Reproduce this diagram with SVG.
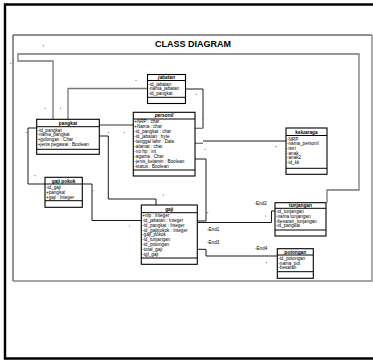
<svg xmlns="http://www.w3.org/2000/svg" width="373" height="360" viewBox="0 0 373 360">
<style>
.box{fill:#fff;stroke:#000;stroke-width:1.1}
.sep{stroke:#000;stroke-width:1}
.hd{font-family:"Liberation Sans",Arial,sans-serif;font-size:4.8px;font-weight:bold;text-anchor:middle;fill:#000}
.at{font-family:"Liberation Sans",Arial,sans-serif;font-size:4.6px;fill:#000}
.lbl{font-family:"Liberation Sans",Arial,sans-serif;font-size:4.6px;fill:#000}
.g{fill:none;stroke:#777;stroke-width:1.3}
.k{fill:none;stroke:#000;stroke-width:0.9}
.dot{fill:#666}
</style>
<rect width="373" height="360" fill="#fff"/>
<path d="M374 4.5 H5 V358.5 H374" fill="none" stroke="#000" stroke-width="2.4"/>
<path d="M372 35 H13 V281" fill="none" stroke="#222" stroke-width="1"/>
<path d="M13 281 H372 V35" fill="none" stroke="#888" stroke-width="1.4"/>
<text x="193" y="46.5" font-family="Liberation Sans,Arial,sans-serif" font-size="9" font-weight="bold" text-anchor="middle">CLASS DIAGRAM</text>

<g id="connectors">
<path class="g" d="M53 119.3 V61 H18 V54 H359 V190 H327 V202.7"/>
<path class="g" d="M68 119.3 V88.5 H147.5"/>
<path class="k" d="M185.5 89 H203 V128.3"/>
<path class="g" d="M203 128.3 H195"/>
<path class="g" d="M99.3 125 H133.3"/>
<path class="k" d="M36.7 128 H28 V184 H45"/>
<path class="k" d="M82.3 184 H92 V220.5 H141.3"/>
<path class="k" d="M99.3 136 H108.3 V199 H156 V205"/>
<path class="k" d="M195 159 H206 V221 H197.3"/>
<path class="k" d="M197.3 222.5 H271.5 V211 H275"/>
<path class="k" d="M197.3 249.3 H206 V256 H277.3"/>
<path class="g" d="M195 143.3 H203"/>
<path class="k" d="M203 141 H286"/>
</g>

<g id="jabatan">
<rect class="box" x="147.5" y="74.5" width="38" height="29"/>
<line class="sep" x1="147.5" y1="80.5" x2="185.5" y2="80.5"/>
<line class="sep" x1="147.5" y1="97.3" x2="185.5" y2="97.3"/>
<text class="hd" x="166.5" y="79" font-style="italic">jabatan</text>
<text class="at" x="148.5" y="85.7">-id_jabatan</text>
<text class="at" x="148.5" y="90.4">-nama_jabatan</text>
<text class="at" x="148.5" y="95.1">-id_pangkat</text>
</g>

<g id="personil">
<rect class="box" x="133.3" y="112.3" width="61.7" height="63.7"/>
<line class="sep" x1="133.3" y1="119" x2="195" y2="119"/>
<line class="sep" x1="133.3" y1="170" x2="195" y2="170"/>
<text class="hd" x="164" y="117.3" font-style="italic">personil</text>
<text class="at" x="134.3" y="123">+NRP : char</text>
<text class="at" x="134.3" y="128">+Nama : char</text>
<text class="at" x="134.3" y="133">-id_pangkat : char</text>
<text class="at" x="134.3" y="137.9">-id_jabatan : byte</text>
<text class="at" x="134.3" y="142.9">-tanggal lahir : Date</text>
<text class="at" x="134.3" y="147.9">-alamat : char</text>
<text class="at" x="134.3" y="152.8">-no hp : int</text>
<text class="at" x="134.3" y="157.8">-agama : Char</text>
<text class="at" x="134.3" y="162.8">-jenis_kelamin : Boolean</text>
<text class="at" x="134.3" y="167.7">-status : Boolean</text>
</g>

<g id="pangkat">
<rect class="box" x="36.7" y="119.3" width="62.6" height="35"/>
<line class="sep" x1="36.7" y1="126.7" x2="99.3" y2="126.7"/>
<line class="sep" x1="36.7" y1="149.3" x2="99.3" y2="149.3"/>
<text class="hd" x="68" y="124.8">pangkat</text>
<text class="at" x="37.7" y="131.8">-id_pangkat</text>
<text class="at" x="37.7" y="136.3">-nama_pangkat</text>
<text class="at" x="37.7" y="141">+golongan : Char</text>
<text class="at" x="37.7" y="145.7">+jenis pegawai : Boolean</text>
</g>

<g id="gaji_pokok">
<rect class="box" x="45" y="177.3" width="37.3" height="30"/>
<line class="sep" x1="45" y1="184" x2="82.3" y2="184"/>
<line class="sep" x1="45" y1="200.7" x2="82.3" y2="200.7"/>
<text class="hd" x="63.6" y="182.5">gaji pokok</text>
<text class="at" x="46" y="189">-id_gaji</text>
<text class="at" x="46" y="194">+pangkat</text>
<text class="at" x="46" y="198.8">+gaji : Integer</text>
</g>

<g id="gaji">
<rect class="box" x="141.3" y="205" width="56" height="59.3"/>
<line class="sep" x1="141.3" y1="212.7" x2="197.3" y2="212.7"/>
<line class="sep" x1="141.3" y1="258" x2="197.3" y2="258"/>
<text class="hd" x="169.3" y="210.7">gaji</text>
<text class="at" x="142.3" y="216.8">+nip : Integer</text>
<text class="at" x="142.3" y="221.7">-id_jabatan : Integer</text>
<text class="at" x="142.3" y="226.6">-id_pangkat : Integer</text>
<text class="at" x="142.3" y="231.5">-id_gajipokok : Integer</text>
<text class="at" x="142.3" y="236.4">-gaji_pokok</text>
<text class="at" x="142.3" y="241.3">-id_tunjangan</text>
<text class="at" x="142.3" y="246.2">-id_potongan</text>
<text class="at" x="142.3" y="251.1">-total_gaji</text>
<text class="at" x="142.3" y="256">-tgl_gaji</text>
</g>

<g id="keluaraga">
<rect class="box" x="286" y="128" width="41" height="46.3"/>
<line class="sep" x1="286" y1="135.5" x2="327" y2="135.5"/>
<line class="sep" x1="286" y1="168.3" x2="327" y2="168.3"/>
<text class="hd" x="306.5" y="133.5">keluaraga</text>
<text class="at" x="287" y="140.5">-NRP</text>
<text class="at" x="287" y="145.2">-nama_personil</text>
<text class="at" x="287" y="150">-istri</text>
<text class="at" x="287" y="154.7">-anak</text>
<text class="at" x="287" y="159.4">-anak2</text>
<text class="at" x="287" y="164.1">-id_kk</text>
</g>

<g id="tunjangan">
<rect class="box" x="275" y="202.7" width="51" height="33.3"/>
<line class="sep" x1="275" y1="208.3" x2="326" y2="208.3"/>
<line class="sep" x1="275" y1="230" x2="326" y2="230"/>
<text class="hd" x="300.5" y="207">tunjangan</text>
<text class="at" x="276" y="213.3">-id_tunjangan</text>
<text class="at" x="276" y="218">-nama tunjangan</text>
<text class="at" x="276" y="222.7">-besaran_tunjangan</text>
<text class="at" x="276" y="227.4">-id_pangkat</text>
</g>

<g id="potongan">
<rect class="box" x="277.3" y="248.7" width="36" height="29.6"/>
<line class="sep" x1="277.3" y1="255" x2="313.3" y2="255"/>
<line class="sep" x1="277.3" y1="271.7" x2="313.3" y2="271.7"/>
<text class="hd" x="295.3" y="253.5">potongan</text>
<text class="at" x="278.3" y="259.8">-id_potongan</text>
<text class="at" x="278.3" y="264.5">-nama_pot</text>
<text class="at" x="278.3" y="269.2">-besaran</text>
</g>

<g id="labels">
<text class="lbl" x="254.5" y="204.5">-End2</text>
<text class="lbl" x="207" y="230.8">-End1</text>
<text class="lbl" x="207" y="244.2">-End3</text>
<text class="lbl" x="255" y="250.2">-End4</text>
</g>

<g id="marks">
<circle class="dot" cx="43.3" cy="45.7" r="0.6"/>
<circle class="dot" cx="10.7" cy="63.3" r="0.6"/>
<circle class="dot" cx="136" cy="80.5" r="0.6"/>
<circle class="dot" cx="196.7" cy="94.3" r="0.6"/>
<circle class="dot" cx="45" cy="108.3" r="0.6"/>
<circle class="dot" cx="60.7" cy="108.3" r="0.6"/>
<circle class="dot" cx="26.7" cy="132.3" r="0.6"/>
<circle class="dot" cx="108.3" cy="132.3" r="0.6"/>
<circle class="dot" cx="124.3" cy="132.5" r="0.6"/>
<circle class="dot" cx="202.7" cy="119.3" r="0.6"/>
<circle class="dot" cx="205" cy="149.3" r="0.6"/>
<circle class="dot" cx="163.3" cy="195" r="0.6"/>
<circle class="dot" cx="276" cy="146.7" r="0.6"/>
<circle class="dot" cx="333.3" cy="189.3" r="0.6"/>
<circle class="dot" cx="265.5" cy="216" r="0.6"/>
<circle class="dot" cx="266.5" cy="262.7" r="0.6"/>
<circle class="dot" cx="35" cy="175.7" r="0.6"/>
<circle class="dot" cx="92.7" cy="190.7" r="0.6"/>
<circle class="dot" cx="129.5" cy="226" r="0.6"/>
<circle class="dot" cx="207.7" cy="212.7" r="0.6"/>
</g>
</svg>
